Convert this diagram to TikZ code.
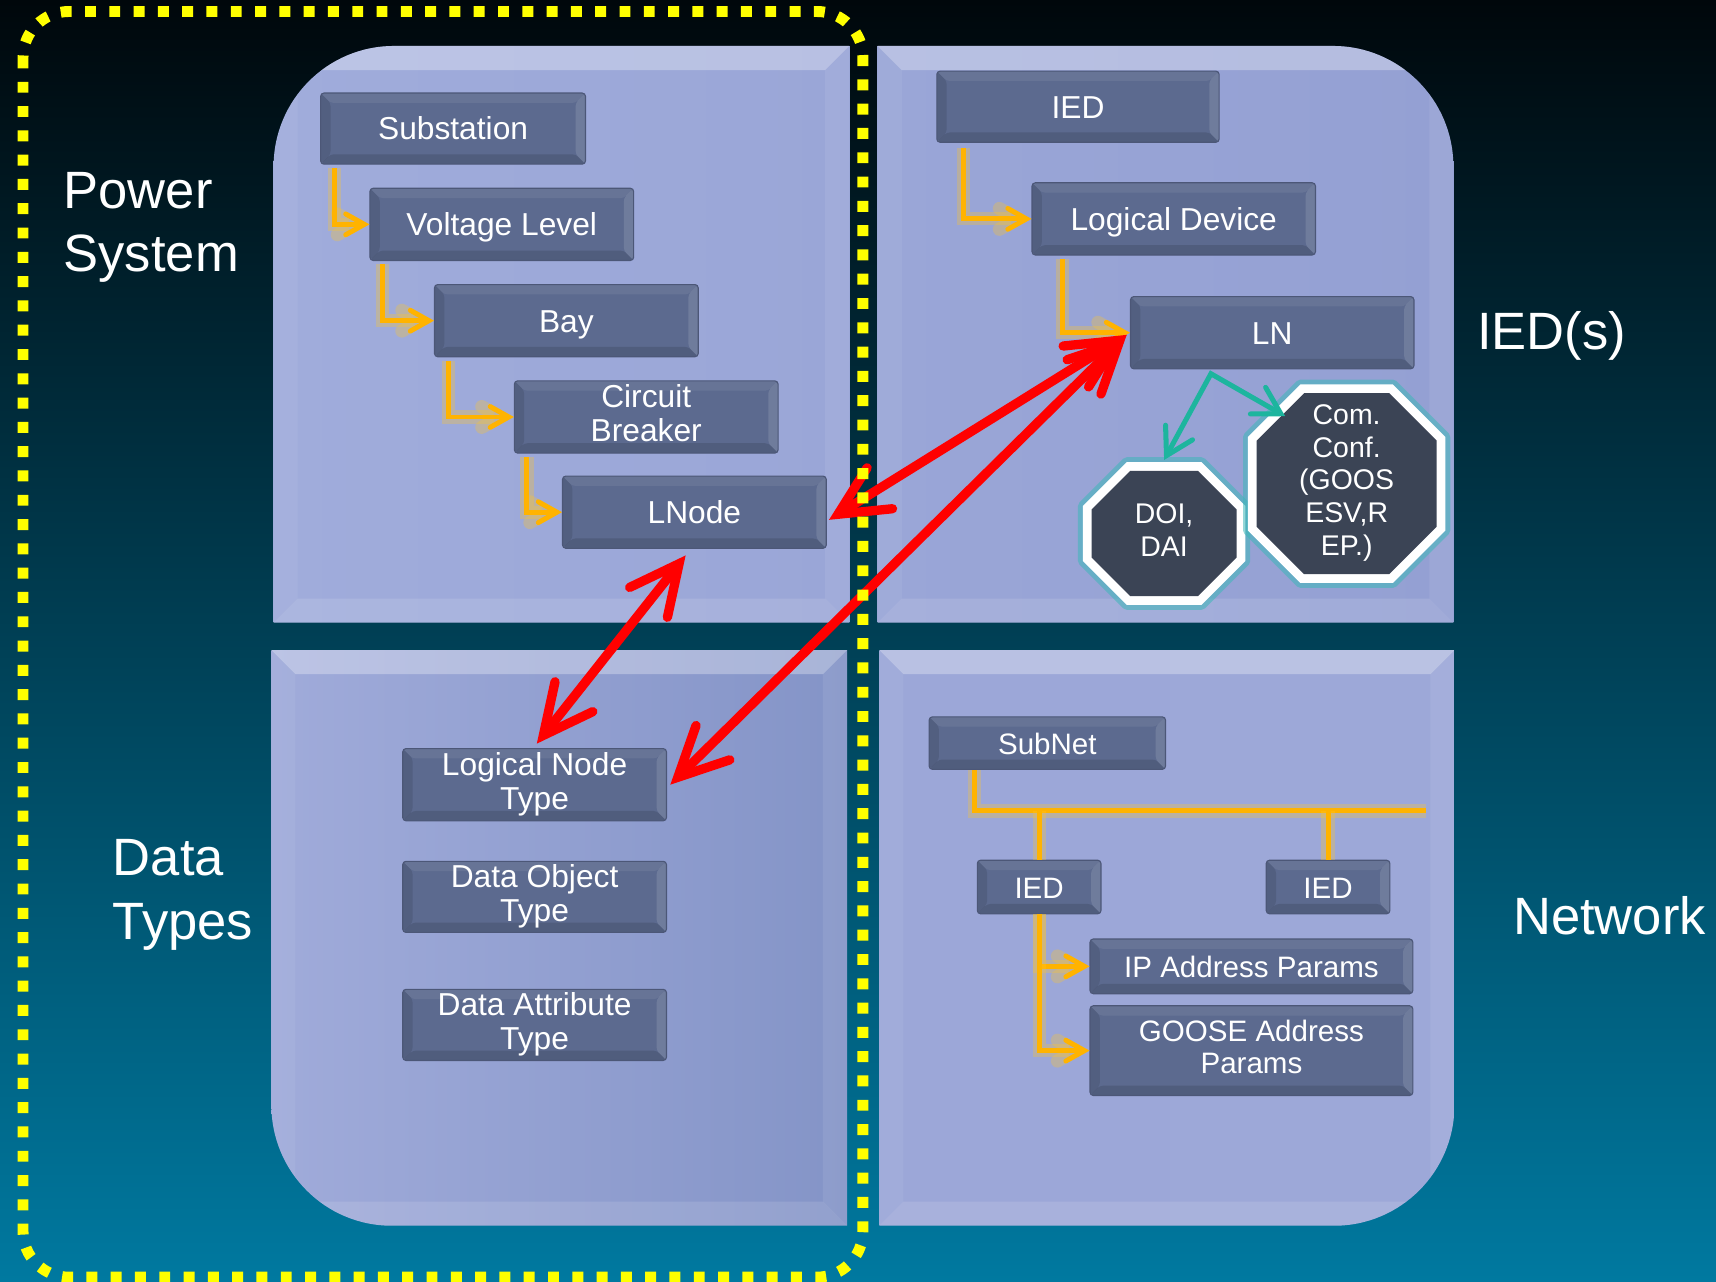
\documentclass[tikz,border=0pt]{standalone}
\usepackage{fontspec}
\setmainfont{Liberation Sans}
\usetikzlibrary{arrows.meta,calc}

\pgfdeclarelayer{panels}
\pgfdeclarelayer{octs}
\pgfsetlayers{panels,octs,main}

\definecolor{bgtop}{HTML}{00070B}
\definecolor{bgbot}{HTML}{0079A0}
\definecolor{boxc}{HTML}{5C6A8F}
\definecolor{boxedge}{HTML}{4C5777}
\definecolor{octdark}{HTML}{3B4455}
\definecolor{octglow}{HTML}{3DB7B9}
\definecolor{linkred}{HTML}{FF0000}
\definecolor{linkteal}{HTML}{1DB59E}
\definecolor{linkorange}{HTML}{FFB300}
\definecolor{orglow}{HTML}{FFC629}
\definecolor{dotyellow}{HTML}{FFFF00}
% panel tones
\definecolor{pnA}{HTML}{A0ACDB}
\definecolor{pnB}{HTML}{8595C8}
\definecolor{pnC}{HTML}{9AA6D7}
\definecolor{pnD}{HTML}{9AA6D7}
\definecolor{pnE}{HTML}{8696C9}
\definecolor{pnF}{HTML}{94A0D3}
\definecolor{pnG}{HTML}{A0ABDA}
\definecolor{pnH}{HTML}{8A99CB}
\definecolor{pnI}{HTML}{8494C7}
\definecolor{pnJ}{HTML}{9CA7D8}
\definecolor{pnK}{HTML}{8897CA}
\definecolor{pnL}{HTML}{9DA8D8}

% bevelled edges of a quadrant panel (x1,y1,x2,y2), used inside a clip
\newcommand\panelbevel[4]{%
  \fill[white,opacity=.30] (#1,#2) -- (#3,#2) -- (#3-22,#2+22) -- (#1+22,#2+22) -- cycle;
  \fill[white,opacity=.06] (#1,#2) -- (#1+22,#2+22) -- (#1+22,#4-22) -- (#1,#4) -- cycle;
  \fill[white,opacity=.08] (#3,#2) -- (#3,#4) -- (#3-22,#4-22) -- (#3-22,#2+22) -- cycle;
  \fill[white,opacity=.12] (#1,#4) -- (#3,#4) -- (#3-22,#4-22) -- (#1+22,#4-22) -- cycle;
}

% octagon around a node: node, inset, chamfer, path options
\newcommand\octshape[4]{%
  \path[#4] ($(#1.north west)+(#2+#3,#2)$) -- ($(#1.north east)+(-#2-#3,#2)$)
    -- ($(#1.north east)+(-#2,#2+#3)$) -- ($(#1.south east)+(-#2,-#2-#3)$)
    -- ($(#1.south east)+(-#2-#3,-#2)$) -- ($(#1.south west)+(#2+#3,-#2)$)
    -- ($(#1.south west)+(#2,-#2-#3)$) -- ($(#1.north west)+(#2,#2+#3)$) -- cycle;
}

\tikzset{
  wh/.style 2 args={minimum width=#1pt, minimum height=#2pt},
  % struts so that capitals sit in the middle of a node
  capcentre/.style 2 args={execute at begin node={\rule{0pt}{#1pt}},
    execute at end node={\rule[-#2pt]{0pt}{#2pt}}},
  boxbevel/.style={path picture={
    \path (path picture bounding box.north west) coordinate (bvA)
          (path picture bounding box.south east) coordinate (bvB);
    \fill[white,opacity=.07] (bvA) -- (bvA -| bvB) -- ($(bvA -| bvB)+(-9,9)$) -- ($(bvA)+(9,9)$) -- cycle;
    \fill[black,opacity=.10] (bvA) -- ($(bvA)+(9,9)$) -- ($(bvB -| bvA)+(9,-9)$) -- (bvB -| bvA) -- cycle;
    \fill[white,opacity=.12] (bvA -| bvB) -- (bvB) -- ($(bvB)+(-9,-9)$) -- ($(bvA -| bvB)+(-9,9)$) -- cycle;
    \fill[black,opacity=.12] (bvB -| bvA) -- (bvB) -- ($(bvB)+(-9,-9)$) -- ($(bvB -| bvA)+(9,-9)$) -- cycle;
  }},
  slatebox/.style={rectangle, rounded corners=3pt, fill=boxc, draw=boxedge, line width=1pt,
    text=white, align=center, inner sep=0pt, font=\fontsize{29}{31.5}\selectfont,
    capcentre={27.8}{7}, boxbevel},
  netbox/.style={slatebox, font=\fontsize{27}{29.5}\selectfont, capcentre={26.3}{7}},
  octtext/.style={rectangle, inner sep=0pt, text=white, align=center,
    font=\fontsize{26}{30}\selectfont, capcentre={25.6}{7}},
  bigtext/.style={text=white, inner sep=0pt, align=left, font=\fontsize{48}{58}\selectfont},
  redbarb/.tip={Straight Barb[length=45pt,width=44pt,line cap=round,line join=miter]},
  tealbarb/.tip={Straight Barb[length=24pt,width=28pt,line cap=round,line join=miter]},
  orbarb/.tip={Straight Barb[length=17pt,width=19pt,line cap=round,line join=miter]},
  redlink/.style={draw=linkred, line width=8.5pt, line cap=round, redbarb-redbarb},
  teallink/.style={draw=linkteal, line width=4.6pt, line join=miter, tealbarb-tealbarb},
  orline/.style={draw=linkorange, line width=4.5pt,
    preaction={draw=orglow, line width=12pt, opacity=.3}},
  orarrow/.style={orline, -orbarb},
}

\begin{document}
\begin{tikzpicture}[x=1pt,y=-1pt]
\useasboundingbox (0,0) rectangle (1568,1171);

\begin{pgfonlayer}{panels}
  % backdrop
  \shade[top color=bgtop,bottom color=bgbot] (0,0) rectangle (1568,1171);
  % power system quadrant
  \begin{scope}
    \clip (250,569) -- (250,152) arc[start angle=180,end angle=270,radius=110] -- (776,42) -- (776,569) -- cycle;
    \shade[left color=pnA, middle color=pnB, right color=pnC] (250,42) rectangle (776,569);
    \panelbevel{250}{42}{776}{569}
  \end{scope}
  % IED quadrant
  \begin{scope}
    \clip (802,569) -- (802,42) -- (1218,42) arc[start angle=270,end angle=360,radius=110] -- (1328,569) -- cycle;
    \shade[left color=pnD, middle color=pnE, right color=pnF] (802,42) rectangle (1328,569);
    \panelbevel{802}{42}{1328}{569}
  \end{scope}
  % data types quadrant
  \begin{scope}
    \clip (248,594) -- (774,594) -- (774,1120) -- (358,1120) arc[start angle=90,end angle=180,radius=110] -- cycle;
    \shade[left color=pnG, middle color=pnH, right color=pnI] (248,594) rectangle (774,1120);
    \panelbevel{248}{594}{774}{1120}
  \end{scope}
  % network quadrant
  \begin{scope}
    \clip (803.5,594) -- (1329,594) -- (1329,1010) arc[start angle=0,end angle=90,radius=110] -- (803.5,1120) -- cycle;
    \shade[left color=pnJ, middle color=pnK, right color=pnL] (803.5,594) rectangle (1329,1120);
    \panelbevel{803.5}{594}{1329}{1120}
  \end{scope}
\end{pgfonlayer}

% quadrant titles
\node[bigtext, anchor=north west] (tps) at (58,157) {Power\\System};
\node[bigtext, anchor=north west] (tdt) at (103,767) {Data\\Types};
\node[bigtext, anchor=base west] (tied) at (1349.5,319) {IED(s)};
\node[bigtext, anchor=base west] (tnet) at (1382.5,854) {Network};

% power system hierarchy
\node[slatebox, wh={242}{65}] (sub) at (414,117.5) {Substation};
\node[slatebox, wh={241}{66}] (vl) at (458.5,205) {Voltage Level};
\node[slatebox, wh={241}{66}] (bay) at (517.5,293) {Bay};
\node[slatebox, wh={241}{66}] (cb) at (590.5,381) {Circuit\\Breaker};
\node[slatebox, wh={241}{66}] (lnode) at (634.5,468) {LNode};

% IED hierarchy
\node[slatebox, wh={258}{65}] (ied) at (985,97.5) {IED};
\node[slatebox, wh={259}{66}] (ld) at (1072.5,200) {Logical Device};
\node[slatebox, wh={259}{66}] (ln) at (1162.5,304) {LN};
\node[octtext, wh={148}{130}] (doi) at (1063.7,487.5) {DOI,\\DAI};
\node[octtext, wh={180}{181}] (com) at (1230.5,442) {Com.\\Conf.\\(GOOS\\ESV,R\\EP.)};

\begin{pgfonlayer}{octs}
  \octshape{doi}{0}{40}{draw=octglow, line width=9pt, opacity=.55, line join=round}
  \octshape{doi}{0}{40}{fill=white}
  \octshape{doi}{8}{35.3}{fill=octdark}
  \octshape{com}{0}{48}{draw=octglow, line width=9pt, opacity=.55, line join=round}
  \octshape{com}{0}{48}{fill=white}
  \octshape{com}{8}{43.3}{fill=octdark}
\end{pgfonlayer}

% data types
\node[slatebox, wh={241}{66}] (lnt) at (488.5,717) {Logical Node\\Type};
\node[slatebox, wh={241}{65}] (dot) at (488.5,819.5) {Data Object\\Type};
\node[slatebox, wh={241}{65}] (dat) at (488.5,936.5) {Data Attribute\\Type};

% network
\node[netbox, wh={216}{48}] (subnet) at (957,679) {SubNet};
\node[netbox, wh={113}{49}] (ied1) at (949.5,810.5) {IED};
\node[netbox, wh={113}{49}] (ied2) at (1213.5,810.5) {IED};
\node[netbox, wh={295}{50}] (ip) at (1143.5,883) {IP Address Params};
\node[netbox, wh={295}{82}] (goose) at (1143.5,960) {GOOSE Address\\Params};

% containment arrows
\draw[orarrow] ([xshift=13,yshift=-3]sub.south west) |- (vl.west);
\draw[orarrow] ([xshift=12,yshift=-3]vl.south west) |- (bay.west);
\draw[orarrow] ([xshift=13,yshift=-3]bay.south west) |- (cb.west);
\draw[orarrow] ([xshift=12,yshift=-3]cb.south west) |- (lnode.west);
\draw[orarrow] ([xshift=25,yshift=-5]ied.south west) |- (ld.west);
\draw[orarrow] ([xshift=28,yshift=-3]ld.south west) |- (ln.west);

% subnetwork bus
\coordinate (busend) at (1303,741);
\draw[orline] ([xshift=42]subnet.south west) |- (busend);
\draw[orline] (ied1.north |- busend) -- (ied1.north);
\draw[orline] (ied2.north |- busend) -- (ied2.north);
\draw[orarrow] (ied1.south) |- (ip.west);
\draw[orarrow] (ied1.south) |- (goose.west);

% LN contents
\coordinate (split) at ([xshift=-56,yshift=-4]ln.south);
\draw[teallink] ([yshift=2]doi.north) -- (split) -- ([xshift=34,yshift=-29]com.north west);

% cross references
\draw[redlink] ([xshift=2,yshift=-7]lnode.east) -- ([xshift=-3,yshift=-2]ln.west);
\draw[redlink] ([xshift=-8,yshift=-6]lnode.south) -- ([xshift=2,yshift=4]lnt.north);
\draw[redlink] ([xshift=3]lnt.east) -- ([xshift=-3,yshift=-2]ln.west);

% scope of the substation section
\draw[dotyellow, line width=10pt, dash pattern=on 10pt off 12.2pt, rounded corners=42pt]
  (21,10.5) rectangle (788.5,1167);
\end{tikzpicture}
\end{document}
